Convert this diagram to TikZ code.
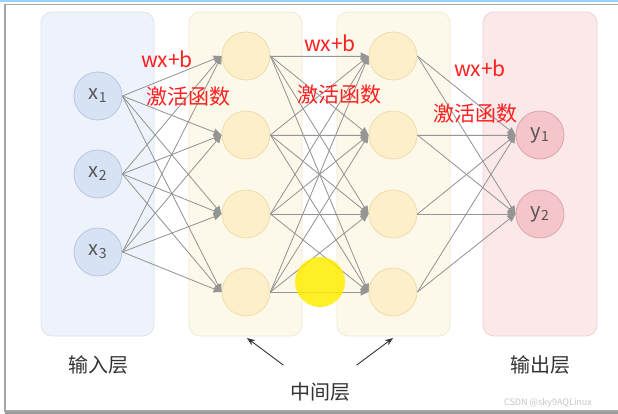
\documentclass[tikz,border=0pt]{standalone}
\usepackage{xcolor}
\usepackage{fontspec}
\setmainfont{Noto Sans CJK SC}
\usepackage{tikz}
\usetikzlibrary{arrows.meta,positioning}

\definecolor{inbg}{HTML}{EEF3FB}
\definecolor{inbd}{HTML}{DCE4F0}
\definecolor{hidbg}{HTML}{FDF9EA}
\definecolor{hidbd}{HTML}{F1EAD2}
\definecolor{outbg}{HTML}{FBE8E9}
\definecolor{outbd}{HTML}{EFD2D5}
\definecolor{infill}{HTML}{D7E3F5}
\definecolor{indraw}{HTML}{B6C6DF}
\definecolor{hidfill}{HTML}{FDEFC9}
\definecolor{hiddraw}{HTML}{EEDDAB}
\definecolor{outfill}{HTML}{F5C5CA}
\definecolor{outdraw}{HTML}{DBA5AC}
\definecolor{linkgray}{HTML}{959595}
\definecolor{redtext}{HTML}{FF1F1F}
\definecolor{darktext}{HTML}{333333}
\definecolor{nodetext}{HTML}{555555}

\begin{document}
\begin{tikzpicture}[
  x=1pt, y=-1pt,
  panel/.style={rounded corners=11pt, line width=0.8pt},
  neuron/.style={circle, minimum size=48pt, inner sep=0pt, line width=0.8pt,
    text=nodetext, font=\fontsize{20}{20}\selectfont},
  innode/.style={neuron, fill=infill, draw=indraw},
  hidnode/.style={neuron, fill=hidfill, draw=hiddraw},
  outnode/.style={neuron, fill=outfill, draw=outdraw},
  link/.style={-{Triangle[length=8pt, width=7pt]}, draw=linkgray, fill=linkgray, line width=0.8pt},
  pointer/.style={-{Stealth[length=8pt, width=6pt]}, draw=darktext, line width=0.9pt},
  note/.style={text=redtext, font=\fontsize{21}{21}\selectfont, inner sep=0pt},
  layername/.style={text=darktext, font=\fontsize{20}{20}\selectfont}
]
  \useasboundingbox (0,0) rectangle (618,414);
  \fill[white] (0,0) rectangle (618,414);

  % screenshot frame
  \draw[draw=blue!45!cyan!40, line width=2pt] (0,1) -- (618,1);
  \draw[draw=gray!70, line width=1.5pt] (618,4.5) -- (5,4.5) -- (5,411) -- (618,411);
  \fill[gray!80] (5,412) rectangle (618,414);

  % layer panels
  \path[panel, fill=inbg, draw=inbd] (41,12) rectangle (154,336);
  \path[panel, fill=hidbg, draw=hidbd] (189,12) rectangle (302,336);
  \path[panel, fill=hidbg, draw=hidbd] (337,12) rectangle (450,336);
  \path[panel, fill=outbg, draw=outbd] (483,12) rectangle (597,336);

  % neurons
  \node[innode] (x1) at (98,96) {x\textsubscript{1}};
  \node[innode] (x2) at (98,174) {x\textsubscript{2}};
  \node[innode] (x3) at (98,252) {x\textsubscript{3}};
  \foreach \i/\yy in {1/56,2/135,3/214,4/292} {
    \node[hidnode] (a\i) at (246,\yy) {};
    \node[hidnode] (b\i) at (393,\yy) {};
  }
  \node[outnode] (y1) at (540,135) {y\textsubscript{1}};
  \node[outnode] (y2) at (540,214) {y\textsubscript{2}};

  % connections
  \foreach \s in {1,2,3}
    \foreach \t in {1,2,3,4}
      \draw[link] (x\s.east) -- (a\t.west);
  \foreach \s in {1,2,3,4}
    \foreach \t in {1,2,3,4}
      \draw[link] (a\s.east) -- (b\t.west);
  \foreach \s in {1,2,3,4}
    \foreach \t in {1,2}
      \draw[link] (b\s.east) -- (y\t.west);

  % red notes
  \node[note] (wxb1) at (167,59) {wx+b};
  \node[note] (act1) at (188,97) {激活函数};
  \node[note] (wxb2) at (330,43) {wx+b};
  \node[note] (act2) at (339,95) {激活函数};
  \node[note] (wxb3) at (480,68) {wx+b};
  \node[note] (act3) at (475,114) {激活函数};

  % layer names
  \node[layername] (inname) at (98,365) {输入层};
  \node[layername] (outname) at (540,365) {输出层};
  \node[layername] (midname) at (320,392) {中间层};
  \coordinate (mida) at (247,338);
  \coordinate (midb) at (393,338);
  \draw[pointer] ([xshift=-3pt,yshift=14pt]midname.north west) -- (mida);
  \draw[pointer] ([xshift=3pt,yshift=14pt]midname.north east) -- (midb);

  % cursor highlight
  \fill[yellow!95!orange, opacity=0.85] (320,282) circle (25);

  % watermark
  \node[text=gray!45, font=\fontsize{9}{9}\selectfont, inner sep=0pt] (mark) at (548,403) {CSDN @sky9AQLinux};
\end{tikzpicture}
\end{document}
